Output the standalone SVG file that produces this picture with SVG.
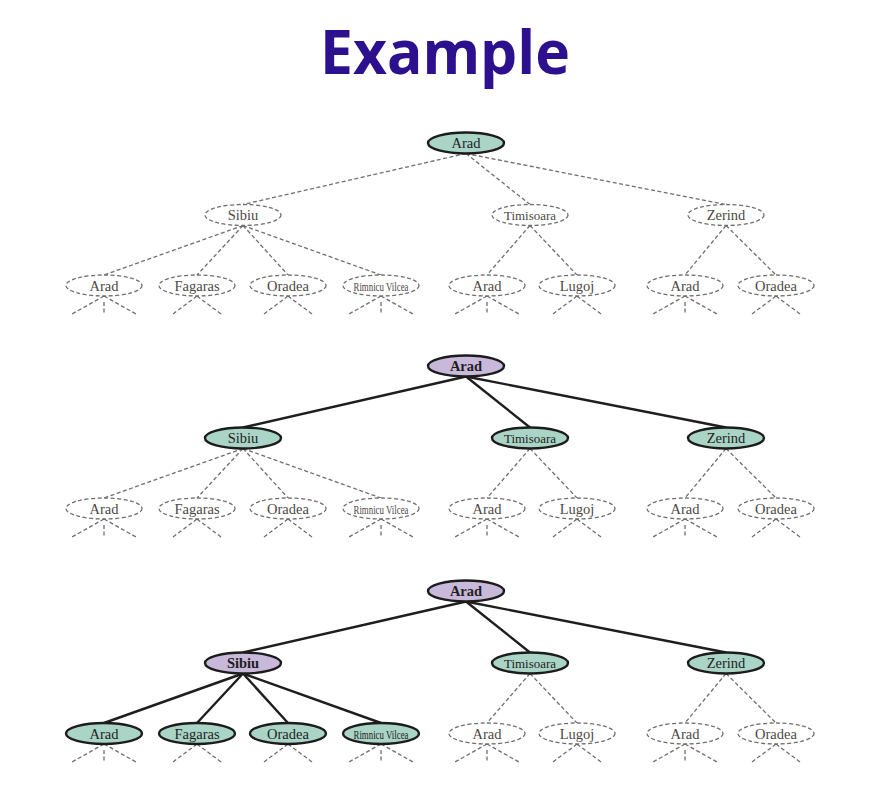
<svg xmlns="http://www.w3.org/2000/svg" xmlns:xlink="http://www.w3.org/1999/xlink" width="884" height="788" viewBox="0 0 884 788">
<style>
.dn{fill:#ffffff;stroke:#6e6e6e;stroke-width:1.3;stroke-dasharray:4 2.5}
.gn{fill:#a9d4c6;stroke:#1c1c1c;stroke-width:2.4}
.pn{fill:#c8b8d9;stroke:#1c1c1c;stroke-width:2.4}
.de{stroke:#6e6e6e;stroke-width:1.3;stroke-dasharray:4 2.5;fill:none}
.se{stroke:#1e1e1e;stroke-width:2.4;fill:none}
text{font-family:"Liberation Serif","Times New Roman",serif;text-anchor:middle}
.t{font-size:14.5px;fill:#4d4845}
.ts{font-size:14.5px;fill:#1e1e1e}
.tb{font-size:14.5px;fill:#1e1e1e;font-weight:bold}
.tti{font-size:12.5px;fill:#4d4845}
.ttis{font-size:12.5px;fill:#1e1e1e}
.title{font-family:"Open Sans","Liberation Sans",sans-serif;font-weight:700;font-size:60px;fill:#2c108e}
</style>
<defs>
<g id="fan3" class="de"><line x1="0" y1="0" x2="-32" y2="18"/><line x1="0" y1="0" x2="32" y2="18"/><line x1="0" y1="6" x2="0" y2="18"/></g>
<g id="fan2" class="de"><line x1="0" y1="0" x2="-24" y2="18"/><line x1="0" y1="0" x2="24" y2="18"/></g>
</defs>
<rect width="884" height="788" fill="#ffffff"/>
<text class="title" x="445" y="74" textLength="250" lengthAdjust="spacingAndGlyphs">Example</text>

<g id="connectors">
<!-- tree 1 -->
<g class="de">
<line x1="466" y1="153.5" x2="243" y2="204.5"/><line x1="466" y1="153.5" x2="530" y2="204.5"/><line x1="466" y1="153.5" x2="726" y2="204.5"/>
<line x1="243" y1="225.5" x2="104" y2="275"/><line x1="243" y1="225.5" x2="197" y2="275"/><line x1="243" y1="225.5" x2="288" y2="275"/><line x1="243" y1="225.5" x2="381" y2="275"/>
<line x1="530" y1="225.5" x2="487" y2="275"/><line x1="530" y1="225.5" x2="577" y2="275"/>
<line x1="726" y1="225.5" x2="685" y2="275"/><line x1="726" y1="225.5" x2="776" y2="275"/>
</g>
<use href="#fan3" xlink:href="#fan3" x="104" y="296"/><use href="#fan2" xlink:href="#fan2" x="197" y="296"/><use href="#fan2" xlink:href="#fan2" x="288" y="296"/><use href="#fan3" xlink:href="#fan3" x="381" y="296"/>
<use href="#fan3" xlink:href="#fan3" x="487" y="296"/><use href="#fan2" xlink:href="#fan2" x="577" y="296"/><use href="#fan3" xlink:href="#fan3" x="685" y="296"/><use href="#fan2" xlink:href="#fan2" x="776" y="296"/>
<!-- tree 2 -->
<g class="se">
<line x1="466" y1="376.5" x2="243" y2="427.5"/><line x1="466" y1="376.5" x2="530" y2="427.5"/><line x1="466" y1="376.5" x2="726" y2="427.5"/>
</g>
<g class="de">
<line x1="243" y1="448.5" x2="104" y2="498"/><line x1="243" y1="448.5" x2="197" y2="498"/><line x1="243" y1="448.5" x2="288" y2="498"/><line x1="243" y1="448.5" x2="381" y2="498"/>
<line x1="530" y1="448.5" x2="487" y2="498"/><line x1="530" y1="448.5" x2="577" y2="498"/>
<line x1="726" y1="448.5" x2="685" y2="498"/><line x1="726" y1="448.5" x2="776" y2="498"/>
</g>
<use href="#fan3" xlink:href="#fan3" x="104" y="519"/><use href="#fan2" xlink:href="#fan2" x="197" y="519"/><use href="#fan2" xlink:href="#fan2" x="288" y="519"/><use href="#fan3" xlink:href="#fan3" x="381" y="519"/>
<use href="#fan3" xlink:href="#fan3" x="487" y="519"/><use href="#fan2" xlink:href="#fan2" x="577" y="519"/><use href="#fan3" xlink:href="#fan3" x="685" y="519"/><use href="#fan2" xlink:href="#fan2" x="776" y="519"/>
<!-- tree 3 -->
<g class="se">
<line x1="466" y1="601.5" x2="243" y2="652.5"/><line x1="466" y1="601.5" x2="530" y2="652.5"/><line x1="466" y1="601.5" x2="726" y2="652.5"/>
<line x1="243" y1="673.5" x2="104" y2="723"/><line x1="243" y1="673.5" x2="197" y2="723"/><line x1="243" y1="673.5" x2="288" y2="723"/><line x1="243" y1="673.5" x2="381" y2="723"/>
</g>
<g class="de">
<line x1="530" y1="673.5" x2="487" y2="723"/><line x1="530" y1="673.5" x2="577" y2="723"/>
<line x1="726" y1="673.5" x2="685" y2="723"/><line x1="726" y1="673.5" x2="776" y2="723"/>
</g>
<use href="#fan3" xlink:href="#fan3" x="104" y="744"/><use href="#fan2" xlink:href="#fan2" x="197" y="744"/><use href="#fan2" xlink:href="#fan2" x="288" y="744"/><use href="#fan3" xlink:href="#fan3" x="381" y="744"/>
<use href="#fan3" xlink:href="#fan3" x="487" y="744"/><use href="#fan2" xlink:href="#fan2" x="577" y="744"/><use href="#fan3" xlink:href="#fan3" x="685" y="744"/><use href="#fan2" xlink:href="#fan2" x="776" y="744"/>
</g>

<!-- tree 1 nodes -->
<g id="t1-arad"><ellipse class="gn" cx="466" cy="143" rx="38" ry="10.5"/><text class="ts" x="466" y="148">Arad</text></g>
<g id="t1-sibiu"><ellipse class="dn" cx="243" cy="215" rx="38" ry="10.5"/><text class="t" x="243" y="220">Sibiu</text></g>
<g id="t1-timisoara"><ellipse class="dn" cx="530" cy="215" rx="38" ry="10.5"/><text class="tti" x="530" y="219.5" textLength="52" lengthAdjust="spacingAndGlyphs">Timisoara</text></g>
<g id="t1-zerind"><ellipse class="dn" cx="726" cy="215" rx="38" ry="10.5"/><text class="t" x="726" y="220">Zerind</text></g>
<g id="t1-s-arad"><ellipse class="dn" cx="104" cy="285.5" rx="38" ry="10.5"/><text class="t" x="104" y="290.5">Arad</text></g>
<g id="t1-fagaras"><ellipse class="dn" cx="197" cy="285.5" rx="38" ry="10.5"/><text class="t" x="197" y="290.5">Fagaras</text></g>
<g id="t1-s-oradea"><ellipse class="dn" cx="288" cy="285.5" rx="38" ry="10.5"/><text class="t" x="288" y="290.5">Oradea</text></g>
<g id="t1-rimnicu"><ellipse class="dn" cx="381" cy="285.5" rx="38" ry="10.5"/><text class="tti" x="381" y="290.5" textLength="55" lengthAdjust="spacingAndGlyphs" style="font-size:13px">Rimnicu Vilcea</text></g>
<g id="t1-t-arad"><ellipse class="dn" cx="487" cy="285.5" rx="38" ry="10.5"/><text class="t" x="487" y="290.5">Arad</text></g>
<g id="t1-lugoj"><ellipse class="dn" cx="577" cy="285.5" rx="38" ry="10.5"/><text class="t" x="577" y="290.5">Lugoj</text></g>
<g id="t1-z-arad"><ellipse class="dn" cx="685" cy="285.5" rx="38" ry="10.5"/><text class="t" x="685" y="290.5">Arad</text></g>
<g id="t1-z-oradea"><ellipse class="dn" cx="776" cy="285.5" rx="38" ry="10.5"/><text class="t" x="776" y="290.5">Oradea</text></g>

<!-- tree 2 nodes -->
<g id="t2-arad"><ellipse class="pn" cx="466" cy="366" rx="38" ry="10.5"/><text class="tb" x="466" y="371">Arad</text></g>
<g id="t2-sibiu"><ellipse class="gn" cx="243" cy="438" rx="38" ry="10.5"/><text class="ts" x="243" y="443">Sibiu</text></g>
<g id="t2-timisoara"><ellipse class="gn" cx="530" cy="438" rx="38" ry="10.5"/><text class="ttis" x="530" y="442.5" textLength="52" lengthAdjust="spacingAndGlyphs">Timisoara</text></g>
<g id="t2-zerind"><ellipse class="gn" cx="726" cy="438" rx="38" ry="10.5"/><text class="ts" x="726" y="443">Zerind</text></g>
<g id="t2-s-arad"><ellipse class="dn" cx="104" cy="508.5" rx="38" ry="10.5"/><text class="t" x="104" y="513.5">Arad</text></g>
<g id="t2-fagaras"><ellipse class="dn" cx="197" cy="508.5" rx="38" ry="10.5"/><text class="t" x="197" y="513.5">Fagaras</text></g>
<g id="t2-s-oradea"><ellipse class="dn" cx="288" cy="508.5" rx="38" ry="10.5"/><text class="t" x="288" y="513.5">Oradea</text></g>
<g id="t2-rimnicu"><ellipse class="dn" cx="381" cy="508.5" rx="38" ry="10.5"/><text class="tti" x="381" y="513.5" textLength="55" lengthAdjust="spacingAndGlyphs" style="font-size:13px">Rimnicu Vilcea</text></g>
<g id="t2-t-arad"><ellipse class="dn" cx="487" cy="508.5" rx="38" ry="10.5"/><text class="t" x="487" y="513.5">Arad</text></g>
<g id="t2-lugoj"><ellipse class="dn" cx="577" cy="508.5" rx="38" ry="10.5"/><text class="t" x="577" y="513.5">Lugoj</text></g>
<g id="t2-z-arad"><ellipse class="dn" cx="685" cy="508.5" rx="38" ry="10.5"/><text class="t" x="685" y="513.5">Arad</text></g>
<g id="t2-z-oradea"><ellipse class="dn" cx="776" cy="508.5" rx="38" ry="10.5"/><text class="t" x="776" y="513.5">Oradea</text></g>

<!-- tree 3 nodes -->
<g id="t3-arad"><ellipse class="pn" cx="466" cy="591" rx="38" ry="10.5"/><text class="tb" x="466" y="596">Arad</text></g>
<g id="t3-sibiu"><ellipse class="pn" cx="243" cy="663" rx="38" ry="10.5"/><text class="tb" x="243" y="668">Sibiu</text></g>
<g id="t3-timisoara"><ellipse class="gn" cx="530" cy="663" rx="38" ry="10.5"/><text class="ttis" x="530" y="667.5" textLength="52" lengthAdjust="spacingAndGlyphs">Timisoara</text></g>
<g id="t3-zerind"><ellipse class="gn" cx="726" cy="663" rx="38" ry="10.5"/><text class="ts" x="726" y="668">Zerind</text></g>
<g id="t3-s-arad"><ellipse class="gn" cx="104" cy="733.5" rx="38" ry="10.5"/><text class="ts" x="104" y="738.5">Arad</text></g>
<g id="t3-fagaras"><ellipse class="gn" cx="197" cy="733.5" rx="38" ry="10.5"/><text class="ts" x="197" y="738.5">Fagaras</text></g>
<g id="t3-s-oradea"><ellipse class="gn" cx="288" cy="733.5" rx="38" ry="10.5"/><text class="ts" x="288" y="738.5">Oradea</text></g>
<g id="t3-rimnicu"><ellipse class="gn" cx="381" cy="733.5" rx="38" ry="10.5"/><text class="ttis" x="381" y="738.5" textLength="55" lengthAdjust="spacingAndGlyphs" style="font-size:13px">Rimnicu Vilcea</text></g>
<g id="t3-t-arad"><ellipse class="dn" cx="487" cy="733.5" rx="38" ry="10.5"/><text class="t" x="487" y="738.5">Arad</text></g>
<g id="t3-lugoj"><ellipse class="dn" cx="577" cy="733.5" rx="38" ry="10.5"/><text class="t" x="577" y="738.5">Lugoj</text></g>
<g id="t3-z-arad"><ellipse class="dn" cx="685" cy="733.5" rx="38" ry="10.5"/><text class="t" x="685" y="738.5">Arad</text></g>
<g id="t3-z-oradea"><ellipse class="dn" cx="776" cy="733.5" rx="38" ry="10.5"/><text class="t" x="776" y="738.5">Oradea</text></g>
</svg>
